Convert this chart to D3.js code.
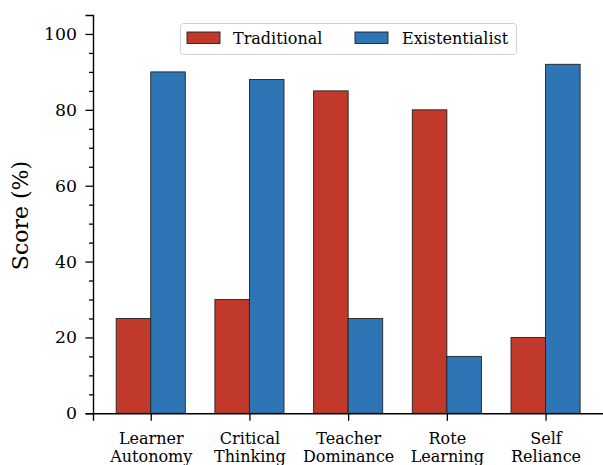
<!DOCTYPE html>
<html><head><meta charset="utf-8">
<script src="https://cdn.jsdelivr.net/npm/d3@7"></script>
<style>body{margin:0;background:#fff}svg{display:block}</style>
</head><body>
<svg id="c" width="603" height="465"></svg>
<script>
const categories = [["Learner","Autonomy"],["Critical","Thinking"],["Teacher","Dominance"],["Rote","Learning"],["Self","Reliance"]];
const traditional = [25, 30, 85, 80, 20];
const existentialist = [90, 88, 25, 15, 92];
const seriesNames = ["Traditional","Existentialist"];
const yTicks = [0,20,40,60,80,100];
const colors = ["#c0392b","#2e75b6"];

(function(){
const svg = d3.select("#c");
const font = "DejaVu Serif";
const mLeft = 93, mRight = 603.3, mTop = 15, mBottom = 413.3;
const x = d3.scaleLinear().domain([-0.585, 4.585]).range([mLeft, mRight]);
const y = d3.scaleLinear().domain([0, 105]).range([mBottom, mTop]);
const bw = 0.35;

const series = [traditional, existentialist];
series.forEach((vals, s) => {
  svg.append("g").selectAll("rect").data(vals).join("rect")
    .attr("x", (d,i) => x(i + (s === 0 ? -bw : 0)))
    .attr("width", x(bw) - x(0))
    .attr("y", d => y(d))
    .attr("height", d => y(0) - y(d))
    .attr("fill", colors[s])
    .attr("stroke", "#222").attr("stroke-width", 0.9);
});

// y axis
const ya = svg.append("g").attr("transform", `translate(${mLeft},0)`)
  .call(d3.axisLeft(y).tickValues(yTicks).tickSize(7.5).tickPadding(8.5).tickFormat(d3.format("d")));
const yMinor = ya.append("g").call(d3.axisLeft(y).tickValues(d3.range(0,105,5).filter(v => v % 20 !== 0)).tickSize(4).tickFormat(""));
yMinor.select(".domain").remove();
ya.selectAll(".domain").attr("stroke","#000").attr("stroke-width",1.4);
ya.selectAll("line").attr("stroke","#000").attr("stroke-width",1.3);
ya.selectAll("text").style("font-family", font).attr("font-size", 17.3).attr("fill","#000");

// x axis
const xa = svg.append("g").attr("transform", `translate(0,${mBottom})`)
  .call(d3.axisBottom(x).tickValues(d3.range(categories.length)).tickSize(7.5).tickFormat(""));
xa.selectAll(".domain").attr("stroke","#000").attr("stroke-width",1.4);
xa.selectAll("line").attr("stroke","#000").attr("stroke-width",1.3);
xa.selectAll(".tick").each(function(d){
  const t = d3.select(this).append("text").style("font-family", font).attr("font-size", 16)
    .attr("fill","#000").attr("text-anchor","middle");
  categories[d].forEach((line, k) => t.append("tspan").attr("x",0).attr("y", 30.3 + k*18.5).text(line));
});

// y label
svg.append("text").attr("transform", "translate(27.5,215.5) rotate(-90)")
  .attr("text-anchor","middle").style("font-family", font).attr("font-size", 22).text("Score (%)");

// legend
const lg = svg.append("g");
lg.append("rect").attr("x",180.5).attr("y",23.5).attr("width",336).attr("height",31).attr("rx",3)
  .attr("fill","#fff").attr("fill-opacity",0.8).attr("stroke","#d0d0d0").attr("stroke-width",1);
const lx = [187, 355], tx = [233, 402];
seriesNames.forEach((n, i) => {
  lg.append("rect").attr("x", lx[i]).attr("y", 32).attr("width", 33).attr("height", 11.5)
    .attr("fill", colors[i]).attr("stroke","#222").attr("stroke-width",0.9);
  lg.append("text").attr("x", tx[i]).attr("y", 43.5).style("font-family", font).attr("font-size", 16).text(n);
});
})();
</script>
</body></html>
